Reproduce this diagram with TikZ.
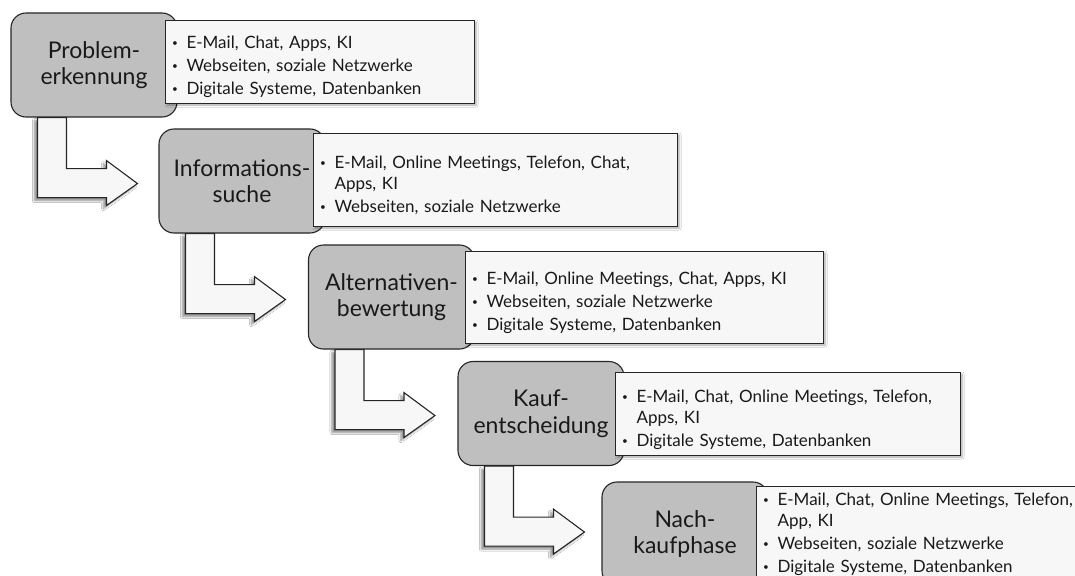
\documentclass[tikz,border=0pt]{standalone}
\usepackage{fontspec}
\setmainfont{Lato}
\usetikzlibrary{calc,shadows.blur}
\definecolor{boxgrey}{HTML}{BFBFBF}
\definecolor{paper}{HTML}{F7F7F7}
\definecolor{edge}{HTML}{262626}
\newcommand{\bitem}[1]{\par\noindent\hangindent=15pt\hangafter=1\makebox[15pt][l]{\hspace{0.5pt}\raisebox{2pt}{\fontsize{10}{10}\selectfont •}}#1}
\newcommand{\flowarrow}[1]{%
  \draw[flow] ($(#1.south west)+(27,0)$) -- ++(0,80) -- ++(69,0) -- ++(0,8)
    -- ++(31,-22) -- ++(-31,-23) -- ++(0,8) -- ++(-40,0) -- ++(0,-51) -- cycle;}
\begin{document}
\begin{tikzpicture}[x=1pt,y=-1pt,
  phase/.style={draw=edge, line width=1.1pt, fill=boxgrey, rounded corners=15pt,
    minimum width=166pt, minimum height=104pt, inner sep=0pt, align=center,
    font=\fontsize{23}{26.5}\selectfont, text=black!90},
  info/.style={draw=edge, line width=1.1pt, fill=paper, inner xsep=6pt, inner ysep=5pt,
    align=left, anchor=north west, text=black!90,
    font=\fontsize{17}{21}\selectfont\setlength{\parskip}{2pt},
    blur shadow={shadow xshift=1.5pt, shadow yshift=-1.5pt, shadow blur steps=4, shadow opacity=35}},
  flow/.style={draw=edge, line width=1.1pt, fill=paper,
    blur shadow={shadow xshift=-3pt, shadow yshift=-3pt, shadow blur steps=6, shadow opacity=45}}]
\clip (0,0) rectangle (1075,575);
\useasboundingbox (0,0) rectangle (1075,575);
\fill[white] (0,0) rectangle (1075,575);

\path (94,65) coordinate (c1) (242,181) coordinate (c2) (391.5,297) coordinate (c3)
      (541,413.5) coordinate (c4) (685,534) coordinate (c5);

% invisible placeholders for arrow anchoring
\node[phase, draw=none, fill=none] (p1) at (c1) {};
\node[phase, draw=none, fill=none] (p2) at (c2) {};
\node[phase, draw=none, fill=none] (p3) at (c3) {};
\node[phase, draw=none, fill=none] (p4) at (c4) {};

\flowarrow{p1}
\flowarrow{p2}
\flowarrow{p3}
\flowarrow{p4}

\node[phase] (b1) at (c1) {Problem-\\erkennung};
\node[phase] (b2) at (c2) {Informations-\\suche};
\node[phase] (b3) at (c3) {Alternativen-\\bewertung};
\node[phase] (b4) at (c4) {Kauf-\\entscheidung};
\node[phase] (b5) at (c5) {Nach-\\kaufphase};

\node[info, text width=297pt, minimum height=83pt] (i1) at (165,20) {%
  \bitem{E-Mail, Chat, Apps, KI}
  \bitem{Webseiten, soziale Netzwerke}
  \bitem{Digitale Systeme, Datenbanken}};
\node[info, text width=352pt, minimum height=93pt] (i2) at (313,133) {%
  \bitem{E-Mail, Online Meetings, Telefon, Chat,\newline Apps, KI}
  \bitem{Webseiten, soziale Netzwerke}};
\node[info, text width=346pt, minimum height=92pt] (i3) at (465,251) {%
  \bitem{E-Mail, Online Meetings, Chat, Apps, KI}
  \bitem{Webseiten, soziale Netzwerke}
  \bitem{Digitale Systeme, Datenbanken}};
\node[info, text width=333pt, minimum height=83pt] (i4) at (615,372) {%
  \bitem{E-Mail, Chat, Online Meetings, Telefon,\newline Apps, KI}
  \bitem{Digitale Systeme, Datenbanken}};
\node[info, text width=340pt, inner ysep=2pt] (i5) at (756,486) {%
  \vspace*{-6pt}%
  \bitem{E-Mail, Chat, Online Meetings, Telefon,\newline App, KI}
  \bitem{Webseiten, soziale Netzwerke}
  \bitem{Digitale Systeme, Datenbanken}};
\end{tikzpicture}
\end{document}
